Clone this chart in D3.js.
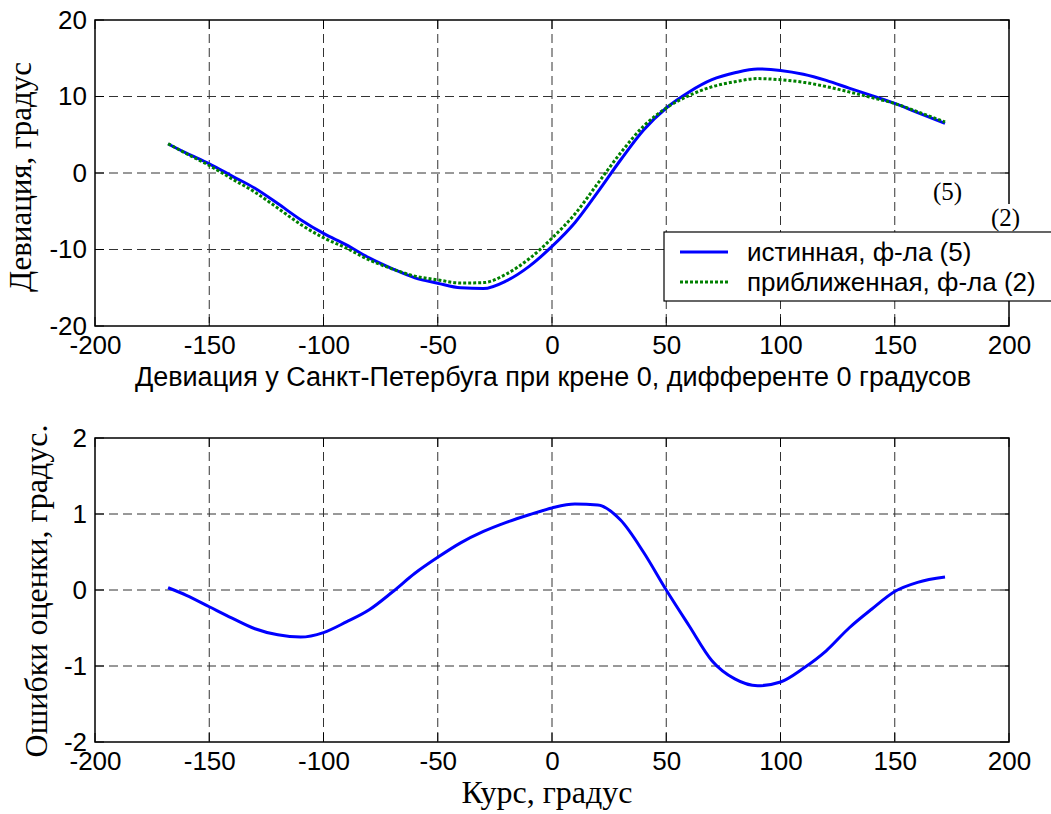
<!DOCTYPE html>
<html>
<head>
<meta charset="utf-8">
<script src="https://cdn.jsdelivr.net/npm/d3@7"></script>
<style>
  body { margin: 0; background: #fff; }
  .tick text { font-family: "Liberation Sans", Arial, sans-serif; font-size: 26px; fill: #000; }
</style>
</head>
<body>
<svg id="fig" width="1051" height="814"></svg>
<script>
// course values (deg) where the curves were read
var course = [-168, -160, -150, -140, -130, -120, -110, -100, -90, -80, -70, -60, -50, -40, -30, -20, -10, 0,
  10, 20, 30, 40, 50, 60, 70, 80, 90, 100, 110, 120, 130, 140, 150, 160, 172];

// true deviation, formula (5)
var devTrue = [3.8, 2.6, 1.2, -0.4, -2.0, -4.0, -6.1, -7.9, -9.4, -11.1, -12.5, -13.7, -14.4, -15.0, -15.1, -14.1, -12.2, -9.6,
  -6.5, -2.5, 1.7, 5.6, 8.5, 10.6, 12.2, 13.1, 13.6, 13.4, 12.9, 12.1, 11.1, 10.1, 9.1, 7.9, 6.5];

// approximate deviation, formula (2)
var devApprox = [3.83, 2.53, 0.98, -0.77, -2.51, -4.59, -6.72, -8.46, -9.82, -11.36, -12.53, -13.48, -13.97, -14.38, -14.33, -13.21, -11.21, -8.52,
  -5.37, -1.38, 2.62, 6.1, 8.5, 10.13, 11.27, 11.93, 12.34, 12.19, 11.87, 11.3, 10.6, 9.85, 9.08, 8.0, 6.67];

// estimation error
var errVals = [0.03, -0.07, -0.22, -0.37, -0.51, -0.59, -0.62, -0.56, -0.42, -0.26, -0.03, 0.22, 0.43, 0.62, 0.77, 0.89, 0.99, 1.08,
  1.13, 1.12, 0.92, 0.50, 0.0, -0.47, -0.93, -1.17, -1.26, -1.21, -1.03, -0.80, -0.50, -0.25, -0.02, 0.10, 0.17];

var xTicks = [-200, -150, -100, -50, 0, 50, 100, 150, 200];
var devTicks = [-20, -10, 0, 10, 20];
var errTicks = [-2, -1, 0, 1, 2];

var legendNames = ["истинная, ф-ла (5)", "приближенная, ф-ла (2)"];

var svg = d3.select("#fig");
svg.append("rect").attr("width", 1051).attr("height", 814).attr("fill", "#fff");

var left = 95, right = 1009;
var x = d3.scaleLinear().domain([-200, 200]).range([left, right]);

// draws one matlab style axes box with grid + ticks, returns the y scale
function drawAxes(top, bottom, yDomain, yTicks) {
  var y = d3.scaleLinear().domain(yDomain).range([bottom, top]);
  var g = svg.append("g");

  // dashed grid
  g.selectAll(".vg").data(xTicks.slice(1, -1)).enter().append("line")
    .attr("x1", d => x(d)).attr("x2", d => x(d))
    .attr("y1", top).attr("y2", bottom)
    .attr("stroke", "#333").attr("stroke-width", 1).attr("stroke-dasharray", "9,5");
  g.selectAll(".hg").data(yTicks.slice(1, -1)).enter().append("line")
    .attr("x1", left).attr("x2", right)
    .attr("y1", d => y(d)).attr("y2", d => y(d))
    .attr("stroke", "#333").attr("stroke-width", 1).attr("stroke-dasharray", "9,5");

  // inward tick marks on all four sides
  var tl = 9;
  xTicks.forEach(function(t) {
    g.append("line").attr("x1", x(t)).attr("x2", x(t)).attr("y1", bottom).attr("y2", bottom - tl).attr("stroke", "#000");
    g.append("line").attr("x1", x(t)).attr("x2", x(t)).attr("y1", top).attr("y2", top + tl).attr("stroke", "#000");
  });
  yTicks.forEach(function(t) {
    g.append("line").attr("x1", left).attr("x2", left + tl).attr("y1", y(t)).attr("y2", y(t)).attr("stroke", "#000");
    g.append("line").attr("x1", right).attr("x2", right - tl).attr("y1", y(t)).attr("y2", y(t)).attr("stroke", "#000");
  });

  // tick labels via d3 axes
  var xa = svg.append("g").attr("transform", "translate(0," + bottom + ")")
    .call(d3.axisBottom(x).tickValues(xTicks).tickSize(0).tickPadding(10).tickFormat(d3.format("d")));
  xa.select(".domain").remove();
  var ya = svg.append("g").attr("transform", "translate(" + left + ",0)")
    .call(d3.axisLeft(y).tickValues(yTicks).tickSize(0).tickPadding(8).tickFormat(d3.format("d")));
  ya.select(".domain").remove();
  xa.selectAll("text").text(d => String(d).replace("−", "-"));
  ya.selectAll("text").text(d => String(d).replace("−", "-"));

  g.append("rect").attr("x", left).attr("y", top).attr("width", right - left).attr("height", bottom - top)
    .attr("fill", "none").attr("stroke", "#000").attr("stroke-width", 1.5);
  return y;
}

// ---- top plot ----
var y1 = drawAxes(20, 326, [-20, 20], devTicks);

var line1 = d3.line().x((d, i) => x(course[i])).y(d => y1(d)).curve(d3.curveMonotoneX);
svg.append("path").datum(devTrue).attr("d", line1)
  .attr("fill", "none").attr("stroke", "#0000ff").attr("stroke-width", 3);
svg.append("path").datum(devApprox).attr("d", line1)
  .attr("fill", "none").attr("stroke", "#008000").attr("stroke-width", 3).attr("stroke-dasharray", "3,2");

// stray formula numbers
svg.append("text").attr("x", 933).attr("y", 200).text("(5)")
  .attr("font-family", "Liberation Serif, Times New Roman, serif").attr("font-size", 25);
svg.append("rect").attr("x", 988).attr("y", 204).attr("width", 33).attr("height", 28).attr("fill", "#fff");
svg.append("text").attr("x", 991).attr("y", 226).text("(2)")
  .attr("font-family", "Liberation Serif, Times New Roman, serif").attr("font-size", 25);

// legend
var leg = svg.append("g");
leg.append("rect").attr("x", 664).attr("y", 232).attr("width", 395).attr("height", 69)
  .attr("fill", "#fff").attr("stroke", "#000").attr("stroke-width", 1.2);
[252, 282].forEach(function(ly, i) {
  leg.append("line").attr("x1", 680).attr("x2", 728).attr("y1", ly).attr("y2", ly)
    .attr("stroke", i ? "#008000" : "#0000ff").attr("stroke-width", 3)
    .attr("stroke-dasharray", i ? "3,2" : null);
  leg.append("text").attr("x", 747).attr("y", ly).attr("dy", "0.35em").text(legendNames[i])
    .attr("font-family", "Liberation Sans, Arial, sans-serif").attr("font-size", 26);
});

svg.append("text").attr("x", 553).attr("y", 386).attr("text-anchor", "middle")
  .text("Девиация у Санкт-Петербуга при крене 0, дифференте 0 градусов")
  .attr("font-family", "Liberation Sans, Arial, sans-serif").attr("font-size", 27);
svg.append("text").attr("transform", "translate(31,177) rotate(-90)").attr("text-anchor", "middle")
  .text("Девиация, градус")
  .attr("font-family", "Liberation Serif, Times New Roman, serif").attr("font-size", 31);

// ---- bottom plot ----
var y2 = drawAxes(438, 742, [-2, 2], errTicks);

var line2 = d3.line().x((d, i) => x(course[i])).y(d => y2(d)).curve(d3.curveMonotoneX);
svg.append("path").datum(errVals).attr("d", line2)
  .attr("fill", "none").attr("stroke", "#0000ff").attr("stroke-width", 3);

svg.append("text").attr("x", 547).attr("y", 803).attr("text-anchor", "middle")
  .text("Курс, градус")
  .attr("font-family", "Liberation Serif, Times New Roman, serif").attr("font-size", 32);
svg.append("text").attr("transform", "translate(47,591) rotate(-90)").attr("text-anchor", "middle")
  .text("Ошибки оценки, градус.")
  .attr("font-family", "Liberation Serif, Times New Roman, serif").attr("font-size", 32);
</script>
</body>
</html>
